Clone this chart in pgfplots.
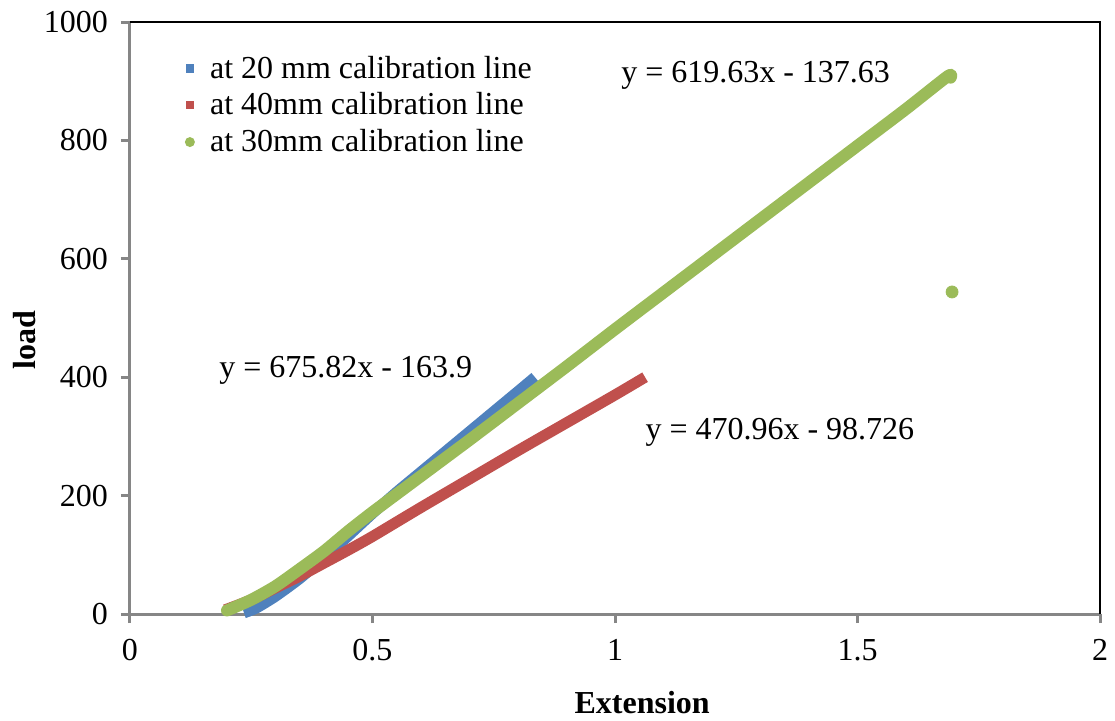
\documentclass[border=0pt]{standalone}
\usepackage{pgfplots}
\pgfplotsset{compat=1.18}
\usepackage{fontspec}
\setmainfont{Liberation Serif}
\definecolor{xblue}{HTML}{4F81BD}
\definecolor{xred}{HTML}{C0504D}
\definecolor{xgreen}{HTML}{9BBB59}
\definecolor{axgray}{HTML}{868686}
\newcommand{\cf}{\fontsize{16}{19}\selectfont}
\begin{document}
\begin{tikzpicture}
\useasboundingbox (-65pt,-53pt) rectangle (492.5pt,307pt);
\begin{axis}[
  at={(0,0)}, anchor=south west,
  scale only axis, width=485pt, height=296pt,
  xmin=0, xmax=2, ymin=0, ymax=1000,
  xtick={0,0.5,1,1.5,2}, ytick={0,200,400,600,800,1000},
  minor tick num=0,
  scaled ticks=false,
  /pgf/number format/1000 sep={},
  /pgf/number format/assume math mode=true,
  ticklabel style={font=\cf},
  xticklabel style={yshift=-4.5pt},
  yticklabel style={xshift=-3pt},
  axis x line*=bottom, axis y line*=left,
  axis line style={axgray, line width=1.5pt, -},
  tick style={axgray, line width=1.5pt},
  tick align=outside, major tick length=4.5pt,
  clip=false,
  xlabel={\textbf{Extension}}, ylabel={\textbf{load}},
  xlabel style={font=\cf, at={(axis description cs:0.528,-0.149)}, anchor=center},
  ylabel style={font=\cf, at={(axis description cs:-0.109,0.463)}, anchor=center},
  legend style={at={(axis description cs:0.05,0.957)}, anchor=north west, draw=none, fill=none, font=\cf, row sep=1.8pt, legend cell align=left},
]
\addplot[xblue, line width=5.5pt, line join=round, smooth, tension=0.4,
  legend image code/.code={\path[fill=xblue, draw=none] (0pt,-2.1pt) rectangle (4.2pt,2.1pt); \path (7.2pt,0pt);}]
  coordinates {(0.235,2) (0.26,10) (0.30,30) (0.35,60) (0.40,95) (0.45,132) (0.50,170) (0.55,206) (0.60,240) (0.70,308) (0.80,376) (0.835,400)};
\addlegendentry{at 20 mm calibration line}
\addplot[xred, line width=5.5pt, line join=round, smooth, tension=0.4,
  legend image code/.code={\path[fill=xred, draw=none] (0pt,-2.1pt) rectangle (4.2pt,2.1pt); \path (7.2pt,0pt);}]
  coordinates {(0.196,7) (0.25,24) (0.30,44) (0.35,64) (0.40,86) (0.45,108) (0.50,131) (0.60,180) (0.70,228) (0.80,276) (0.90,323) (1.00,370) (1.062,400)};
\addlegendentry{at 40mm calibration line}
\addplot[xgreen, line width=6pt, line cap=round, line join=round, smooth, tension=0.4,
  legend image code/.code={\path[fill=xgreen, draw=none] (2.1pt,0pt) circle (2.5pt); \path (7.2pt,0pt);}]
  coordinates {(0.20,6) (0.25,24) (0.30,47) (0.35,76) (0.40,106) (0.45,140) (0.50,172) (0.60,233) (0.70,294) (0.80,356) (0.90,418) (1.00,481) (1.10,543) (1.20,605) (1.30,667) (1.40,729) (1.50,791) (1.60,853) (1.687,909) (1.692,906)};
\addlegendentry{at 30mm calibration line}
\addplot[only marks, mark=*, mark size=3pt, xgreen, forget plot] coordinates {(1.695,544)};
\draw[black, line width=0.75pt] (rel axis cs:0,1) -- (rel axis cs:1,1) -- (rel axis cs:1,0);
\node[font=\cf] at (axis cs:1.29,910) {y = 619.63x - 137.63};
\node[font=\cf] at (axis cs:0.445,412) {y = 675.82x - 163.9};
\node[font=\cf] at (axis cs:1.34,307) {y = 470.96x - 98.726};
\end{axis}
\end{tikzpicture}
\end{document}
